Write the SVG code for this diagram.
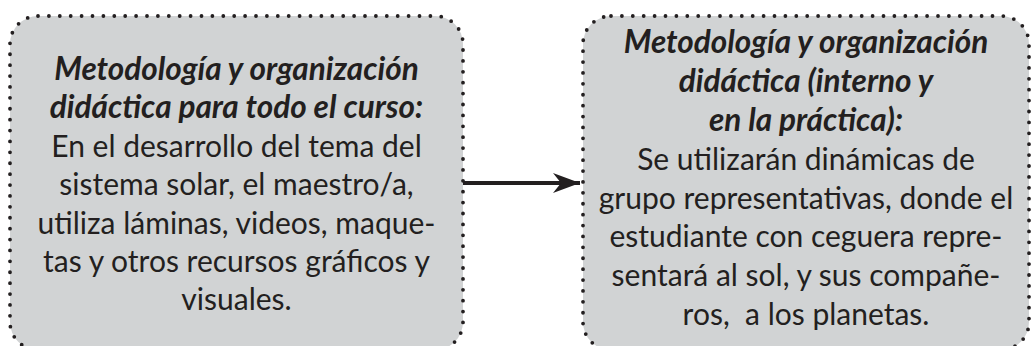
<svg xmlns="http://www.w3.org/2000/svg" width="1032" height="346" viewBox="0 0 1032 346">
<defs>
<style>
.box{fill:#d1d3d4;stroke:#231f20;stroke-width:3.8;stroke-linecap:round;stroke-dasharray:0 10.9}
.h{font-family:Lato,"Open Sans",sans-serif;font-weight:bold;font-style:italic;font-size:31.5px;fill:#231f20;text-anchor:middle}
.b{font-family:Lato,"Open Sans",sans-serif;font-size:30px;fill:#231f20;text-anchor:middle}
</style>
<marker id="ah" markerUnits="userSpaceOnUse" markerWidth="30" markerHeight="24" refX="27" refY="12" orient="auto">
<path d="M0,2 L27,12 L0,22 L8,12 Z" fill="#231f20"/>
</marker>
</defs>
<g id="connectors">
<line x1="463" y1="183" x2="580" y2="183" stroke="#231f20" stroke-width="4" marker-end="url(#ah)"/>
</g>
<g id="node-left">
<rect class="box" x="10" y="16" width="453" height="334" rx="28"/>
<text class="h" x="236.5" y="80">Metodología y organización</text>
<text class="h" x="236.5" y="118">didáctica para todo el curso:</text>
<text class="b" x="236.5" y="157">En el desarrollo del tema del</text>
<text class="b" x="236.5" y="195">sistema solar, el maestro/a,</text>
<text class="b" x="236.5" y="234">utiliza láminas, videos, maque-</text>
<text class="b" x="236.5" y="272">tas y otros recursos gráficos y</text>
<text class="b" x="236.5" y="310">visuales.</text>
</g>
<g id="node-right">
<rect class="box" x="583" y="16" width="446" height="334" rx="28"/>
<text class="h" x="806" y="53">Metodología y organización</text>
<text class="h" x="806" y="92">didáctica (interno y</text>
<text class="h" x="806" y="131">en la práctica):</text>
<text class="b" x="806" y="170">Se utilizarán dinámicas de</text>
<text class="b" x="806" y="209">grupo representativas, donde el</text>
<text class="b" x="806" y="247">estudiante con ceguera repre-</text>
<text class="b" x="806" y="286">sentará al sol, y sus compañe-</text>
<text class="b" x="806" y="325">ros,&#160; a los planetas.</text>
</g>
</svg>
